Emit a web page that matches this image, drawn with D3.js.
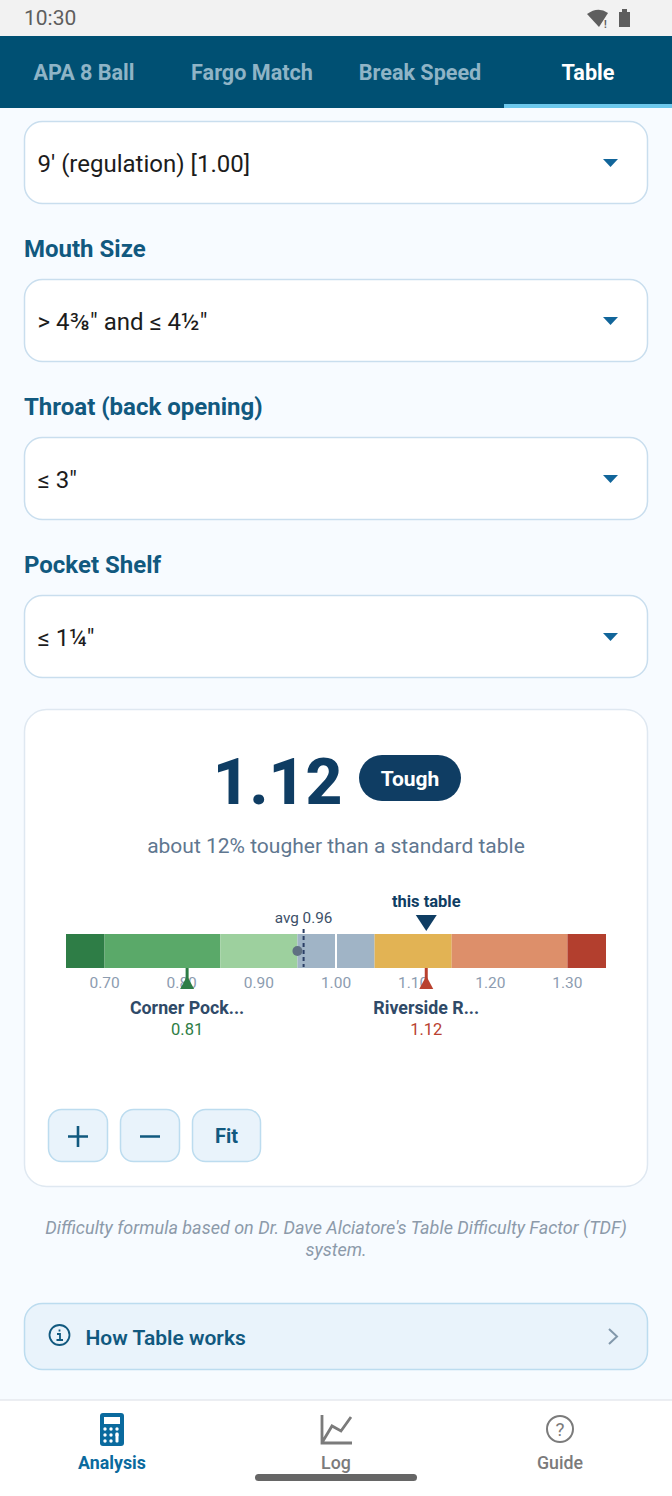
<!DOCTYPE html>
<html>
<head>
<meta charset="utf-8">
<style>
    html, body { margin: 0; padding: 0; background: #f7fbff; }
    svg { display: block; font-family: Roboto, sans-serif; }
    .tick text { font-size: 15.5px; fill: #8c9cb0; font-family: Roboto, sans-serif; }
    .axis .domain, .axis .tick line { display: none; }
</style>
</head>
<body>
<svg id="page" width="672" height="1496"></svg>
<script src="https://d3js.org/d3.v7.min.js"></script>
<script>
// chart values
const zoneStops = [0.65, 0.70, 0.85, 0.95, 1.05, 1.15, 1.30, 1.35];
const tickValues = [0.70, 0.80, 0.90, 1.00, 1.10, 1.20, 1.30];
const thisTable = 1.117;
const avgValue = 0.958;
const dotValue = 0.95;
const refValue = 1.00;
const refNames = ["Corner Pock...", "Riverside R..."];
const refValues = [0.807, 1.117];

// page text
const tabs = ["APA 8 Ball", "Fargo Match", "Break Speed", "Table"];
const fieldLabels = [null, "Mouth Size", "Throat (back opening)", "Pocket Shelf"];
const fieldValues = ["9' (regulation) [1.00]", "> 4⅜\" and ≤ 4½\"", "≤ 3\"", "≤ 1¼\""];
const navLabels = ["Analysis", "Log", "Guide"];

const zoneColors = ["#2e7d46", "#5aa969", "#9dd09e", "#a0b4c6", "#e2b354", "#dd8f6a", "#b33f2e"];
const navy = "#0f3d63", blue = "#11597f", line = "#c9deee";

let svg = d3.select("#page");

function label(x, y, str, size, weight, fill, anchor) {
    return svg.append("text").attr("x", x).attr("y", y).text(str)
        .attr("font-size", size).attr("font-weight", weight).attr("fill", fill)
        .attr("text-anchor", anchor || "start");
}

// status bar
svg.append("rect").attr("width", 672).attr("height", 36).attr("fill", "#f2f2f2");
label(24, 25, "10:30", 21, 400, "#5e5e5e");
svg.append("path").attr("d", "M587 14 Q598 6 608 13 L599 27 Z").attr("fill", "#5e5e5e");
label(604, 28, "!", 10, 700, "#5e5e5e");
svg.append("path").attr("d", "M619 12 h3 v-3 h5 v3 h3 v15 h-11 Z").attr("fill", "#5e5e5e");

// tab header
svg.append("rect").attr("y", 36).attr("width", 672).attr("height", 72).attr("fill", "#005073");
tabs.forEach((t, i) => {
    label(84 + i * 168, 80, t, 21.6, 700, i == 3 ? "#ffffff" : "#8fb4c6", "middle");
});
svg.append("rect").attr("x", 504).attr("y", 104).attr("width", 168).attr("height", 4).attr("fill", "#6cc8ec");

// dropdowns
fieldValues.forEach((v, i) => {
    let top = 122 + i * 158;
    if (fieldLabels[i]) label(24, top - 23, fieldLabels[i], 24, 700, blue);
    svg.append("rect").attr("x", 24.5).attr("y", top - 0.5).attr("width", 623).attr("height", 82).attr("rx", 18)
        .attr("fill", "#fff").attr("stroke", line).attr("stroke-width", 1.5);
    label(37.5, top + 50, v, 24, 400, "#1c1c1c");
    svg.append("path").attr("d", `M603 ${top + 37} h15 l-7.5 8 Z`).attr("fill", "#11659a");
});

// card
svg.append("rect").attr("x", 24.5).attr("y", 709.5).attr("width", 623).attr("height", 477).attr("rx", 22)
    .attr("fill", "#fff").attr("stroke", "#dfe8f1").attr("stroke-width", 1.5);
label(277.5, 804, d3.format(".2f")(thisTable), 64, 800, navy, "middle");
svg.append("rect").attr("x", 359).attr("y", 755).attr("width", 102).attr("height", 46).attr("rx", 23).attr("fill", navy);
label(410, 786, "Tough", 21, 700, "#fff", "middle");
label(336, 853, "about 12% tougher than a standard table", 21, 400, "#5f7790", "middle");

// difficulty scale
let x = d3.scaleLinear().domain([0.65, 1.35]).range([66, 606]);
let barTop = 934, barH = 34;

svg.append("g").selectAll("rect")
    .data(d3.pairs(zoneStops))
    .join("rect")
    .attr("x", d => x(d[0]))
    .attr("width", d => x(d[1]) - x(d[0]))
    .attr("y", barTop).attr("height", barH)
    .attr("fill", (d, i) => zoneColors[i]);

// white reference line at 1.00
svg.append("line").attr("x1", x(refValue)).attr("x2", x(refValue))
    .attr("y1", barTop).attr("y2", barTop + barH)
    .attr("stroke", "#fff").attr("stroke-width", 2);

let axis = d3.axisBottom(x).tickValues(tickValues).tickSize(0).tickPadding(9).tickFormat(d3.format(".2f"));
svg.append("g").attr("class", "axis").attr("transform", `translate(-0.5,${barTop + barH})`).call(axis);

// average marker
svg.append("line").attr("x1", x(avgValue)).attr("x2", x(avgValue))
    .attr("y1", barTop - 5).attr("y2", barTop + barH - 1)
    .attr("stroke", "#2b3f66").attr("stroke-width", 2).attr("stroke-dasharray", "4 3");
svg.append("circle").attr("cx", x(dotValue)).attr("cy", 951).attr("r", 5).attr("fill", "#5f7082");
label(x(avgValue), 923, "avg " + d3.format(".2f")(avgValue), 15.3, 400, "#3d5068", "middle");

// this table marker
label(x(thisTable), 907, "this table", 16.5, 700, navy, "middle");
svg.append("path").attr("transform", `translate(${x(thisTable)},0)`).attr("d", "M-10.5 915 H10.5 L0 931 Z").attr("fill", navy);

// reference tables under the bar
refValues.forEach((v, i) => {
    let px = x(v), c = v < 1 ? "#2e7d46" : "#b9412f";
    svg.append("g").attr("transform", `translate(${px},0)`).call(g => {
        g.append("rect").attr("x", -1.5).attr("y", 968).attr("width", 3).attr("height", 16).attr("fill", c);
        g.append("path").attr("d", "M-7 989 L0 976 L7 989 Z").attr("fill", c);
    });
    label(px, 1014, refNames[i], 17.8, 700, "#2f4a68", "middle");
    label(px, 1035, d3.format(".2f")(v), 16.5, 400, c, "middle");
});

// zoom buttons
[[48, 60], [120, 60], [192, 69]].forEach(b => {
    svg.append("rect").attr("x", b[0] + 0.5).attr("y", 1109.5).attr("width", b[1] - 1).attr("height", 52).attr("rx", 13)
        .attr("fill", "#e9f3fb").attr("stroke", "#bcdcef").attr("stroke-width", 1.5);
});
svg.append("path").attr("d", "M68 1136.5 H88 M78 1126 V1147 M140 1136.5 H160").attr("fill", "none").attr("stroke", blue).attr("stroke-width", 2.6);
label(226.5, 1143, "Fit", 20, 700, blue, "middle");

// footnote
label(336, 1234, "Difficulty formula based on Dr. Dave Alciatore's Table Difficulty Factor (TDF)", 18, 400, "#8c9aaa", "middle").attr("font-style", "italic");
label(336, 1256, "system.", 18, 400, "#8c9aaa", "middle").attr("font-style", "italic");

// how it works row
svg.append("rect").attr("x", 24.5).attr("y", 1303.5).attr("width", 623).attr("height", 66).attr("rx", 18)
    .attr("fill", "#e9f3fb").attr("stroke", "#bcdcef").attr("stroke-width", 1.5);
svg.append("circle").attr("cx", 59.5).attr("cy", 1335).attr("r", 10).attr("fill", "none").attr("stroke", blue).attr("stroke-width", 1.8);
svg.append("path").attr("d", "M57 1334 h3 v6 M56.5 1340 h6.5 M59.5 1329.5 v2").attr("fill", "none").attr("stroke", blue).attr("stroke-width", 1.8);
label(85.5, 1344.5, "How Table works", 21, 600, blue);
svg.append("path").attr("d", "M609 1329 L617 1336.5 L609 1344").attr("fill", "none").attr("stroke", "#8298ab").attr("stroke-width", 2);

// bottom nav
svg.append("rect").attr("y", 1400).attr("width", 672).attr("height", 96).attr("fill", "#fff");
svg.append("line").attr("x1", 0).attr("x2", 672).attr("y1", 1400).attr("y2", 1400).attr("stroke", "#e6e9ee").attr("stroke-width", 1.5);
navLabels.forEach((t, i) => {
    label([112, 336, 560][i], 1469, t, 17.8, i == 0 ? 700 : 500, i == 0 ? "#0a6a9e" : "#7b7b7b", "middle");
});

// calculator icon
svg.append("rect").attr("x", 100).attr("y", 1413).attr("width", 24).attr("height", 33).attr("rx", 3).attr("fill", "#0a6a9e");
svg.append("rect").attr("x", 104).attr("y", 1417).attr("width", 16).attr("height", 7).attr("fill", "#fff");
[[0, 0], [1, 0], [2, 0], [0, 1], [1, 1], [2, 1], [0, 2], [1, 2]].forEach(p => {
    svg.append("circle").attr("cx", 105 + p[0] * 6).attr("cy", 1429 + p[1] * 6).attr("r", 1.7).attr("fill", "#fff");
});
svg.append("rect").attr("x", 115.5).attr("y", 1432.5).attr("width", 3).attr("height", 10).attr("rx", 1).attr("fill", "#fff");

// log icon
svg.append("path").attr("d", "M322 1415 V1443 H352 M323 1441 L332 1426 L341 1431 L351 1417")
    .attr("fill", "none").attr("stroke", "#7b7b7b").attr("stroke-width", 2.8);

// guide icon
svg.append("circle").attr("cx", 560).attr("cy", 1429).attr("r", 13).attr("fill", "none").attr("stroke", "#7b7b7b").attr("stroke-width", 2);
label(560, 1436, "?", 19, 400, "#7b7b7b", "middle");

// gesture bar
svg.append("rect").attr("x", 255).attr("y", 1474).attr("width", 162).attr("height", 7).attr("rx", 3.5).attr("fill", "#666");
</script>
</body>
</html>
